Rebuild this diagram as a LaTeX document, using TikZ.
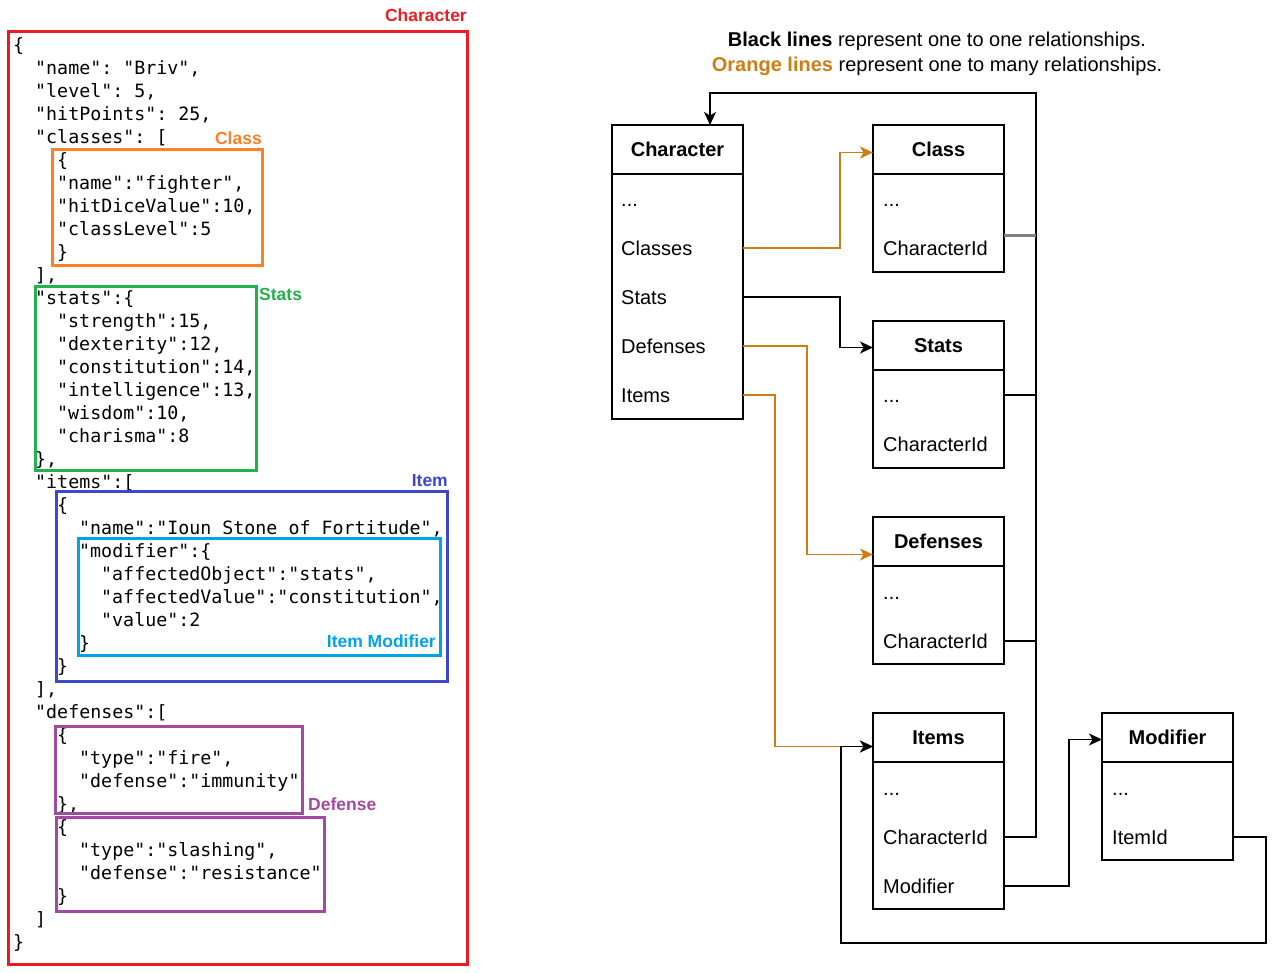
\documentclass[tikz,border=0pt]{standalone}
\usepackage{fontspec}
\setmainfont{Liberation Sans}
\newfontfamily\jsonfont{DejaVu Sans Mono}[Ligatures=TeXOff]
\usetikzlibrary{positioning,arrows.meta}
\definecolor{jsred}{RGB}{237,28,36}
\definecolor{jsorange}{RGB}{255,127,39}
\definecolor{jsgreen}{RGB}{34,177,76}
\definecolor{jsblue}{RGB}{63,72,204}
\definecolor{jscyan}{RGB}{0,162,232}
\definecolor{jspurple}{RGB}{163,73,164}
\definecolor{relorange}{RGB}{205,125,20}
\definecolor{busgray}{RGB}{128,128,128}
\begin{document}
\begin{tikzpicture}[x=1pt,y=-1pt,>={Stealth[length=13pt,width=12pt,inset=3.5pt]},
      code/.style={anchor=base west,inner sep=0pt,font=\jsonfont\fontsize{18.3pt}{23pt}\selectfont\frenchspacing},
      tag/.style={inner sep=0pt,text height=12.5pt,text depth=0pt,font=\fontsize{17.5pt}{20pt}\selectfont\bfseries},
      head/.style={draw,line width=1.5pt,minimum width=131pt,minimum height=49pt,inner sep=0pt,outer sep=0pt,font=\fontsize{20pt}{24pt}\selectfont\bfseries},
      body/.style={draw,line width=1.5pt,minimum width=131pt,inner sep=0pt,outer sep=0pt},
      row/.style={anchor=west,inner sep=0pt,text height=14pt,text depth=0pt,font=\fontsize{20pt}{24pt}\selectfont},
      one2one/.style={line width=1.5pt},
      one2many/.style={line width=1.5pt,relorange}]
      \fill[white] (0,0) rectangle (1277,972);
      \useasboundingbox (0,0) rectangle (1277,972);

      % json listing
      \node[code] (l0) at (13,51) {\{};
      \node[code] (l1) at (35,74) {"name": "Briv",};
      \node[code] (l2) at (35,97) {"level": 5,};
      \node[code] (l3) at (35,120) {"hitPoints": 25,};
      \node[code] (l4) at (35,143) {"classes": [};
      \node[code] (l5) at (57,166) {\{};
      \node[code] (l6) at (57,189) {"name":"fighter",};
      \node[code] (l7) at (57,212) {"hitDiceValue":10,};
      \node[code] (l8) at (57,235) {"classLevel":5};
      \node[code] (l9) at (57,258) {\}};
      \node[code] (l10) at (35,281) {],};
      \node[code] (l11) at (35,304) {"stats":\{};
      \node[code] (l12) at (57,327) {"strength":15,};
      \node[code] (l13) at (57,350) {"dexterity":12,};
      \node[code] (l14) at (57,373) {"constitution":14,};
      \node[code] (l15) at (57,396) {"intelligence":13,};
      \node[code] (l16) at (57,419) {"wisdom":10,};
      \node[code] (l17) at (57,442) {"charisma":8};
      \node[code] (l18) at (35,465) {\},};
      \node[code] (l19) at (35,488) {"items":[};
      \node[code] (l20) at (57,511) {\{};
      \node[code] (l21) at (79,534) {"name":"Ioun Stone of Fortitude",};
      \node[code] (l22) at (79,557) {"modifier":\{};
      \node[code] (l23) at (101,580) {"affectedObject":"stats",};
      \node[code] (l24) at (101,603) {"affectedValue":"constitution",};
      \node[code] (l25) at (101,626) {"value":2};
      \node[code] (l26) at (79,649) {\}};
      \node[code] (l27) at (57,672) {\}};
      \node[code] (l28) at (35,695) {],};
      \node[code] (l29) at (35,718) {"defenses":[};
      \node[code] (l30) at (57,741) {\{};
      \node[code] (l31) at (79,764) {"type":"fire",};
      \node[code] (l32) at (79,787) {"defense":"immunity"};
      \node[code] (l33) at (57,810) {\},};
      \node[code] (l34) at (57,833) {\{};
      \node[code] (l35) at (79,856) {"type":"slashing",};
      \node[code] (l36) at (79,879) {"defense":"resistance"};
      \node[code] (l37) at (57,902) {\}};
      \node[code] (l38) at (35,925) {]};
      \node[code] (l39) at (13,948) {\}};

      % coloured frames
      \draw[jsred,line width=3pt] (8,31) rectangle (467,964);
      \draw[jsorange,line width=3pt] (52,149) rectangle (262,265);
      \draw[jsgreen,line width=3pt] (35,286) rectangle (256,470);
      \draw[jsblue,line width=3pt] (56,491) rectangle (447,681);
      \draw[jscyan,line width=3pt] (78,538) rectangle (440,655);
      \draw[jspurple,line width=3pt] (55,726) rectangle (302,813);
      \draw[jspurple,line width=3pt] (56,817) rectangle (324,911);
      \node[tag,jsred,anchor=east] (tchr) at (467,15) {Character};
      \node[tag,jsorange,anchor=east] (tcls) at (262,138) {Class};
      \node[tag,jsgreen,anchor=west] (tsts) at (259,294) {Stats};
      \node[tag,jsblue,anchor=east] (titm) at (448,480) {Item};
      \node[tag,jscyan,anchor=east] (tmod) at (436,641) {Item Modifier};
      \node[tag,jspurple,anchor=west] (tdfs) at (308,804) {Defense};

      % legend
      \node[anchor=base,font=\fontsize{20pt}{24pt}\selectfont] (t1) at (937,46)
        {\textbf{Black lines} represent one to one relationships.};
      \node[anchor=base,font=\fontsize{20pt}{24pt}\selectfont] (t2) at (937,71)
        {\textcolor{relorange}{\textbf{Orange lines}} represent one to many relationships.};

      % tables
      \node[head] (chr) at (677.5,149.5) {Character};
      \node[body,minimum height=245pt,below=0pt of chr] (chrb) {};
      \node[head,right=130pt of chr] (cls) {Class};
      \node[body,minimum height=98pt,below=0pt of cls] (clsb) {};
      \node[head,below=49pt of clsb] (sts) {Stats};
      \node[body,minimum height=98pt,below=0pt of sts] (stsb) {};
      \node[head,below=49pt of stsb] (dfs) {Defenses};
      \node[body,minimum height=98pt,below=0pt of dfs] (dfsb) {};
      \node[head,below=49pt of dfsb] (itm) {Items};
      \node[body,minimum height=147pt,below=0pt of itm] (itmb) {};
      \node[head,right=98pt of itm] (mod) {Modifier};
      \node[body,minimum height=98pt,below=0pt of mod] (modb) {};

      \node[row] (chr0) at (621,199) {...};
      \node[row] (chrcls) at (621,248) {Classes};
      \node[row] (chrsts) at (621,297) {Stats};
      \node[row] (chrdfs) at (621,346) {Defenses};
      \node[row] (chritm) at (621,395) {Items};
      \node[row] (cls0) at (883,199) {...};
      \node[row] (clscid) at (883,248) {CharacterId};
      \node[row] (sts0) at (883,395) {...};
      \node[row] (stscid) at (883,444) {CharacterId};
      \node[row] (dfs0) at (883,592) {...};
      \node[row] (dfscid) at (883,641) {CharacterId};
      \node[row] (itm0) at (883,788) {...};
      \node[row] (itmcid) at (883,837) {CharacterId};
      \node[row] (itmmod) at (883,886) {Modifier};
      \node[row] (mod0) at (1112,788) {...};
      \node[row] (modiid) at (1112,837) {ItemId};

      % relations
      \coordinate (bustop) at (1036,93);
      \draw[one2many,->] (chrb.east |- chrcls) -- ++(97,0) |- ([yshift=-3pt]cls.west);
      \draw[one2one,->] (chrb.east |- chrsts) -- ++(97,0) |- ([yshift=-2pt]sts.west);
      \draw[one2many,->] (chrb.east |- chrdfs) -- ++(64,0) |- ([yshift=-13pt]dfs.west);
      \draw[one2many,->] (chrb.east |- chritm) -- ++(32,0) |- ([yshift=-9pt]itm.west);
      \draw[one2one,->] (itmb.east |- itmcid) -| (bustop) -| ([xshift=32.5pt]chr.north);
      \draw[busgray,line width=3pt] ([yshift=-12pt]clsb.east) -- ++(32,0);
      \draw[one2one] (stsb.east |- sts0) -- (bustop |- sts0);
      \draw[one2one] (dfsb.east |- dfscid) -- (bustop |- dfscid);
      \draw[one2one,->] (itmb.east |- itmmod) -- ++(65,0) |- ([yshift=-2pt]mod.west);
      \draw[one2one,->] (modb.east |- modiid) -- ++(33,0) -- ++(0,106)
        -| ([xshift=-32pt,yshift=-9pt]itm.west) -- ([yshift=-9pt]itm.west);
    \end{tikzpicture}
\end{document}
